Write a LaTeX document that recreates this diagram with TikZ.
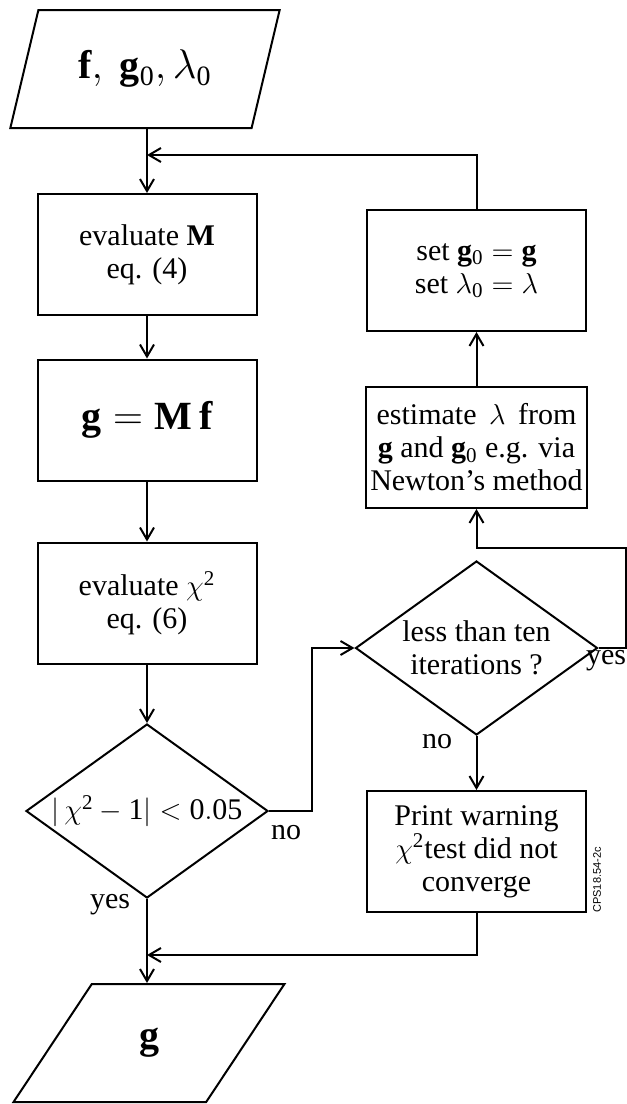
\documentclass[tikz,border=0pt]{standalone}
\usepackage{fontspec}
\setmainfont{Liberation Serif}
\newfontfamily\tagfont{Liberation Sans}
\usetikzlibrary{arrows.meta,shapes.geometric}
\tikzset{
  blk/.style={draw,rectangle,line width=1pt,minimum width=109.5pt,minimum height=60.5pt,align=center,inner sep=2pt,font=\fontsize{15}{16.5}\selectfont},
  bigblk/.style={blk,font=\fontsize{20}{24}\selectfont},
  iopar/.style={draw,trapezium,trapezium left angle=65,trapezium right angle=115,trapezium stretches=true,minimum width=135.5pt,minimum height=59pt,line width=1pt,inner sep=0pt,font=\fontsize{20}{24}\selectfont},
  decide/.style={draw,diamond,aspect=1.4,minimum width=121pt,minimum height=87pt,line width=1pt,align=center,inner sep=0pt,font=\fontsize{15}{16.5}\selectfont},
  arr/.style={-{Straight Barb[length=6pt,width=7pt]},line width=1pt},
  lbl/.style={inner sep=0pt,font=\fontsize{15}{16.5}\selectfont}
}

\begin{document}
\begin{tikzpicture}[x=0.5pt,y=-0.5pt]
  \useasboundingbox (0,0) rectangle (627,1104);
  % Left column
  \node[iopar] (in) at (145,69) {$\mathbf{f},\ \mathbf{g}_{\mathrm{0}}, \lambda_{\mathrm{0}}$};
  \node[blk] (evM) at (147,254.5) {evaluate \textbf{M}\\eq. (4)};
  \node[bigblk] (gMf) at (147,420) {$\mathbf{g} \mathrel{\mathrm{=}} \mathbf{M}\,\mathbf{f}$};
  \node[blk] (evchi) at (147,603) {evaluate $\chi^{\mathrm{2}}$\\eq. (6)};
  \node[decide] (conv) at (147,811) {$\Bigl|\,\chi^{\mathrm{2}}-\mathrm{1}\Bigr|\mathrel{<}\mathrm{0.05}$};
  \node[iopar] (out) at (149,1043) {$\mathbf{g}$};

  % Right column
  \node[blk] (setg) at (476.5,270.5) {set $\mathbf{g}_{\mathrm{0}} \mathrel{\mathrm{=}} \mathbf{g}$\\set $\lambda_{\mathrm{0}} \mathrel{\mathrm{=}} \lambda$};
  \node[blk] (estl) at (476.5,447.5) {estimate \,$\lambda$\, from\\$\mathbf{g}$ and $\mathbf{g}_{\mathrm{0}}$ e.g. via\\Newton’s method};
  \node[decide] (iter) at (476.5,648) {less than ten\\iterations ?};
  \node[blk] (warn) at (476.5,851.5) {Print warning\\$\chi^{\mathrm{2}}$test did not\\converge};

  % Corner points
  \coordinate (topjoin) at (147,155);
  \coordinate (nojog) at (312,648);
  \coordinate (yesjog) at (625.5,548);
  \coordinate (botjoin) at (147,955);

  % Main flow
  \draw[arr] (in.south -| evM.north) -- (evM.north);
  \draw[arr] (evM.south) -- (gMf.north);
  \draw[arr] (gMf.south) -- (evchi.north);
  \draw[arr] (evchi.south) -- (conv.north);
  \draw[arr] (conv.south) -- (out.north -| conv.south);
  \draw[arr] (conv.east) -| (nojog) -- (iter.west);
  \draw[arr] (iter.east) -| (yesjog) -| (estl.south);
  \draw[arr] (estl.north) -- (setg.south);
  \draw[arr] (setg.north) |- (topjoin);
  \draw[arr] (iter.south) -- (warn.north);
  \draw[arr] (warn.south) |- (botjoin);

  % Branch labels
  \node[lbl] (no1) at (286,833) {no};
  \node[lbl] (yes1) at (110,905) {yes};
  \node[lbl] (no2) at (437,742) {no};
  \node[lbl] (yes2) at (606,661) {yes};
  \node[rotate=90,inner sep=0pt,font=\tagfont\fontsize{5.5}{6}\selectfont] (tag) at (597,880) {CPS18.54-2c};
\end{tikzpicture}
\end{document}
